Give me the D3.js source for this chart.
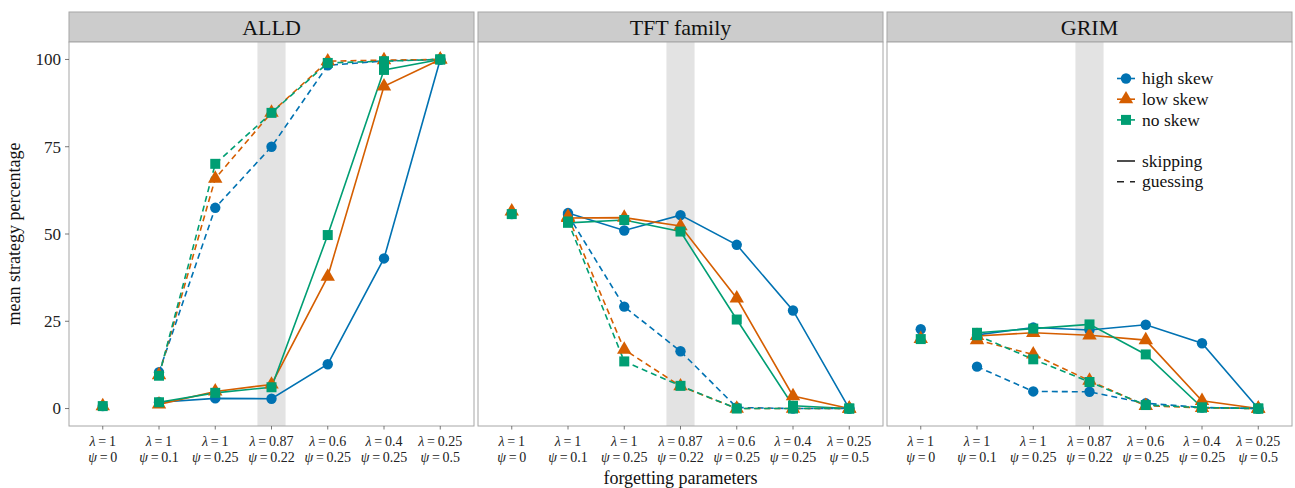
<!DOCTYPE html>
<html>
<head>
<meta charset="utf-8">
<script src="https://cdn.jsdelivr.net/npm/d3@7"></script>
<style>
  body { margin: 0; background: #fff; }
  text { font-family: "Liberation Serif", "DejaVu Serif", serif; }
</style>
</head>
<body>
<div id="chart"></div>
<script>
// forgetting parameters (x categories)
const lambdas = ["1", "1", "1", "0.87", "0.6", "0.4", "0.25"];
const psis = ["0", "0.1", "0.25", "0.22", "0.25", "0.25", "0.5"];
const panelNames = ["ALLD", "TFT family", "GRIM"];
const skews = ["high skew", "low skew", "no skew"];
const modes = ["skipping", "guessing"];
const yTicks = [0, 25, 50, 75, 100];

// value at lambda=1, psi=0 (no line), per skew
const alldBase = [0.7, 0.7, 0.7];
const tftBase = [55.7, 56.5, 55.7];
const grimBase = [22.7, 20.0, 19.9];

// values for the other six categories
const alldHighSkip = [1.8, 2.9, 2.8, 12.7, 43.0, 100];
const alldLowSkip = [1.2, 4.9, 6.9, 37.8, 92.3, 100];
const alldNoSkip = [1.8, 4.5, 6.1, 49.7, 97.0, 100];
const alldHighGuess = [10.4, 57.5, 75.0, 98.3, 99.6, 100];
const alldLowGuess = [9.6, 65.9, 84.8, 99.5, 99.8, 100];
const alldNoGuess = [9.4, 70.1, 84.7, 99.0, 99.5, 100];

const tftHighSkip = [56.0, 51.0, 55.4, 46.9, 28.1, 0];
const tftLowSkip = [54.6, 54.7, 52.3, 31.6, 3.6, 0];
const tftNoSkip = [53.2, 54.0, 50.7, 25.5, 0.8, 0];
const tftHighGuess = [55.5, 29.2, 16.4, 0.3, 0, 0];
const tftLowGuess = [55.0, 16.9, 6.4, 0, 0, 0];
const tftNoGuess = [53.6, 13.5, 6.5, 0, 0, 0];

const grimHighSkip = [21.1, 23.2, 22.5, 24.0, 18.7, 0];
const grimLowSkip = [20.8, 21.7, 21.0, 19.6, 2.2, 0];
const grimNoSkip = [21.7, 22.9, 24.1, 15.5, 0.3, 0];
const grimHighGuess = [12.0, 4.9, 4.8, 1.5, 0.3, 0];
const grimLowGuess = [19.6, 15.5, 8.0, 0.8, 0.2, 0];
const grimNoGuess = [21.0, 14.1, 7.6, 1.0, 0.3, 0];

const panelData = [
  { base: alldBase, skip: [alldHighSkip, alldLowSkip, alldNoSkip], guess: [alldHighGuess, alldLowGuess, alldNoGuess] },
  { base: tftBase, skip: [tftHighSkip, tftLowSkip, tftNoSkip], guess: [tftHighGuess, tftLowGuess, tftNoGuess] },
  { base: grimBase, skip: [grimHighSkip, grimLowSkip, grimNoSkip], guess: [grimHighGuess, grimLowGuess, grimNoGuess] }
];

const width = 1295, height = 488;
const colors = ["#0072B2", "#D55E00", "#009E73"];
const shapes = [d3.symbolCircle, d3.symbolTriangle, d3.symbolSquare];
const shapeSize = [85, 90, 100];

const svg = d3.select("#chart").append("svg")
    .attr("width", width)
    .attr("height", height);

const panelW = 405, gap = 4, left0 = 69;
const plotTop = 42, plotBottom = 426, stripTop = 12;

const cats = d3.range(lambdas.length);
const x = d3.scaleBand().domain(cats).range([0, panelW]).paddingOuter(0.1).paddingInner(0);
const xc = i => x(i) + x.bandwidth() / 2;
const y = d3.scaleLinear().domain([-5, 105]).range([plotBottom, plotTop]);

const line = d3.line().x(d => xc(d.i)).y(d => y(d.v));

panelNames.forEach((name, p) => {
  const g = svg.append("g").attr("transform", `translate(${left0 + p * (panelW + gap)},0)`);
  const pd = panelData[p];

  // strip
  g.append("rect").attr("x", 0).attr("y", stripTop).attr("width", panelW).attr("height", plotTop - stripTop)
      .attr("fill", "#cccccc").attr("stroke", "#a6a6a6").attr("stroke-width", 1);
  g.append("text").attr("x", panelW / 2).attr("y", stripTop + 22.5)
      .attr("text-anchor", "middle").attr("font-size", 22).attr("fill", "#111").text(name);

  // panel background + highlight band at lambda=0.87
  g.append("rect").attr("x", 0).attr("y", plotTop).attr("width", panelW).attr("height", plotBottom - plotTop)
      .attr("fill", "#fff");
  g.append("rect").attr("x", xc(3) - x.bandwidth() / 4).attr("y", plotTop)
      .attr("width", x.bandwidth() / 2).attr("height", plotBottom - plotTop).attr("fill", "#e3e3e3");

  // lines: skipping solid, guessing dashed
  modes.forEach(mode => {
    const arrs = mode === "skipping" ? pd.skip : pd.guess;
    arrs.forEach((vals, s) => {
      const pts = vals.map((v, k) => ({ i: k + 1, v }));
      g.append("path").datum(pts).attr("d", line)
          .attr("fill", "none").attr("stroke", colors[s]).attr("stroke-width", 1.6)
          .attr("stroke-dasharray", mode === "guessing" ? "6,4" : null);
    });
  });

  // points
  skews.forEach((sk, s) => {
    const pts = [{ i: 0, v: pd.base[s] }]
      .concat(pd.skip[s].map((v, k) => ({ i: k + 1, v })))
      .concat(pd.guess[s].map((v, k) => ({ i: k + 1, v })));
    g.selectAll(null).data(pts).join("path")
        .attr("transform", d => `translate(${xc(d.i)},${y(d.v)})`)
        .attr("d", d3.symbol().type(shapes[s]).size(shapeSize[s]))
        .attr("fill", colors[s]);
  });

  // panel border
  g.append("rect").attr("x", 0).attr("y", plotTop).attr("width", panelW).attr("height", plotBottom - plotTop)
      .attr("fill", "none").attr("stroke", "#a6a6a6").attr("stroke-width", 1);

  // x axis
  const xa = g.append("g").attr("transform", `translate(0,${plotBottom})`);
  cats.forEach(i => {
    xa.append("line").attr("x1", xc(i)).attr("x2", xc(i)).attr("y1", 0).attr("y2", 3.5)
        .attr("stroke", "#555").attr("stroke-width", 0.8);
    const t1 = xa.append("text").attr("x", xc(i)).attr("y", 20).attr("text-anchor", "middle")
        .attr("font-size", 14).attr("fill", "#222");
    t1.append("tspan").attr("font-style", "italic").text("λ");
    t1.append("tspan").text("\u2009=\u2009" + lambdas[i]);
    const t2 = xa.append("text").attr("x", xc(i)).attr("y", 36).attr("text-anchor", "middle")
        .attr("font-size", 14).attr("fill", "#222");
    t2.append("tspan").attr("font-style", "italic").text("ψ");
    t2.append("tspan").text("\u2009=\u2009" + psis[i]);
  });

  // y axis on first panel
  if (p === 0) {
    const ya = g.append("g");
    yTicks.forEach(t => {
      ya.append("line").attr("x1", -4).attr("x2", 0).attr("y1", y(t)).attr("y2", y(t))
          .attr("stroke", "#555").attr("stroke-width", 0.8);
      ya.append("text").attr("x", -8).attr("y", y(t)).attr("dy", "0.35em")
          .attr("text-anchor", "end").attr("font-size", 17).attr("fill", "#222").text(t);
    });
  }
});

// axis titles
svg.append("text").attr("x", left0 + (3 * panelW + 2 * gap) / 2).attr("y", 484)
    .attr("text-anchor", "middle").attr("font-size", 18).attr("fill", "#111").text("forgetting parameters");
svg.append("text").attr("transform", `translate(20,${(plotTop + plotBottom) / 2}) rotate(-90)`)
    .attr("text-anchor", "middle").attr("font-size", 18).attr("fill", "#111").text("mean strategy percentage");

// legend inside GRIM panel
const lg = svg.append("g").attr("transform", "translate(1117,0)");
skews.forEach((sk, s) => {
  const ly = 78.5 + s * 20.7;
  lg.append("line").attr("x1", 0).attr("x2", 18).attr("y1", ly).attr("y2", ly)
      .attr("stroke", colors[s]).attr("stroke-width", 1.6);
  lg.append("path").attr("transform", `translate(9,${ly})`)
      .attr("d", d3.symbol().type(shapes[s]).size(shapeSize[s])).attr("fill", colors[s]);
  lg.append("text").attr("x", 25).attr("y", ly).attr("dy", "0.33em")
      .attr("font-size", 17.5).attr("fill", "#111").text(sk);
});
modes.forEach((m, k) => {
  const ly = 161 + k * 20.7;
  lg.append("line").attr("x1", 0).attr("x2", 18).attr("y1", ly).attr("y2", ly)
      .attr("stroke", "#222").attr("stroke-width", 1.6)
      .attr("stroke-dasharray", k === 1 ? "7,6" : null);
  lg.append("text").attr("x", 25).attr("y", ly).attr("dy", "0.33em")
      .attr("font-size", 17.5).attr("fill", "#111").text(m);
});
</script>
</body>
</html>
